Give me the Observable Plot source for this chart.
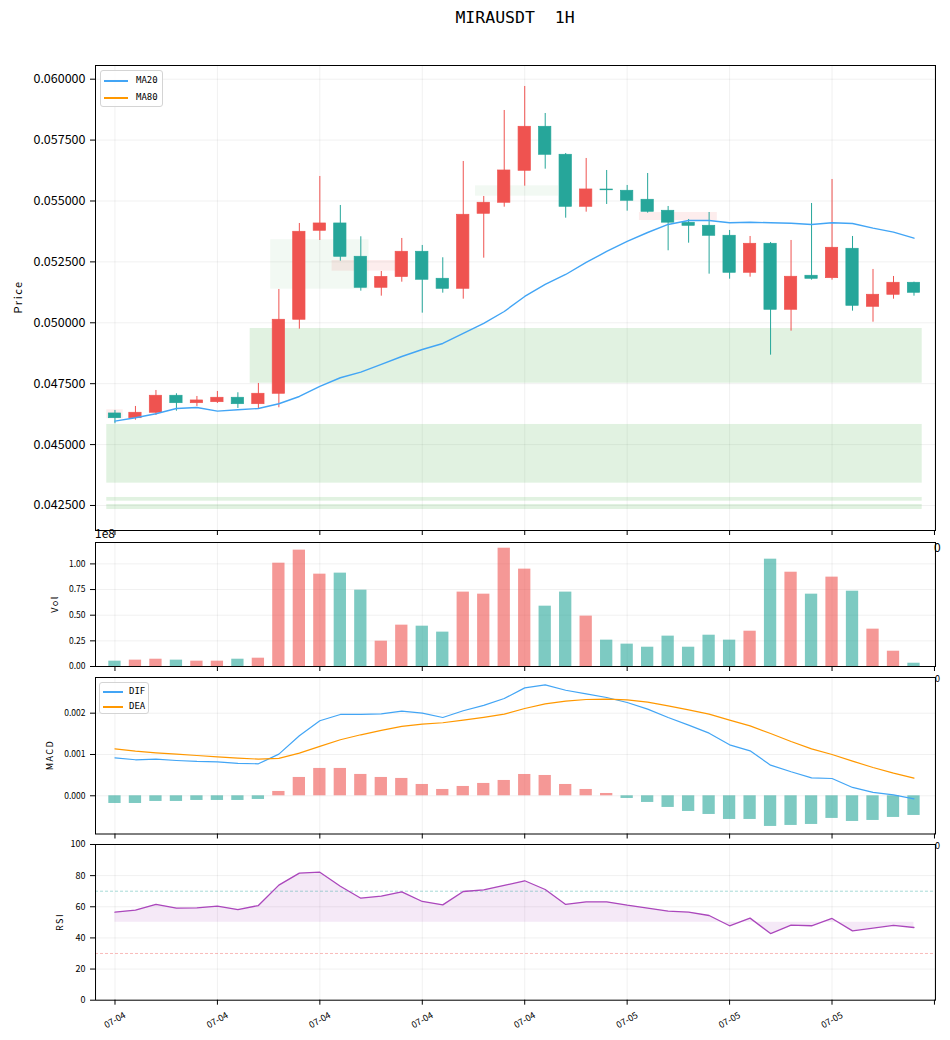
<!DOCTYPE html>
<html>
<head>
<meta charset="utf-8">
<script src="https://cdn.jsdelivr.net/npm/d3@7"></script>
<script src="https://cdn.jsdelivr.net/npm/@observablehq/plot@0.6"></script>
<style>
  body { margin: 0; background: #fff; }
  #fig { position: relative; width: 950px; height: 1040px; overflow: hidden; font-family: "Noto Sans CJK SC", sans-serif; color: #000; }
  .panel { position: absolute; left: 0; }
  .panel svg { background: transparent; overflow: visible; }
  .title { position: absolute; top: 8px; left: 315px; width: 400px; text-align: center; font-family: "DejaVu Sans Mono", monospace; font-size: 16.5px; white-space: pre; }
  .ylab { position: absolute; transform: translate(-50%, -50%) rotate(-90deg); white-space: nowrap; letter-spacing: 1.5px; }
  .legend { position: absolute; background: rgba(255,255,255,0.85); border: 1px solid #d4d4d4; border-radius: 3px; font-family: "DejaVu Sans Mono", monospace; font-size: 9px; box-sizing: border-box; }
  .legend .sw { position: absolute; height: 1.6px; }
  .legend .tx { position: absolute; line-height: 10px; }
  .art { position: absolute; white-space: nowrap; }
</style>
</head>
<body>
<div id="fig"></div>
<script>
// ---------------- data ----------------
const xTickIdx = [0, 5, 10, 15, 20, 25, 30, 35];
const xTickLabels = ["07-04", "07-04", "07-04", "07-04", "07-04", "07-05", "07-05", "07-05"];
const xAxisTicks = [0, 5, 10, 15, 20, 25, 30, 35, 40];

const openP  = [0.046277,0.046084,0.046306,0.047004,0.046700,0.046741,0.046922,0.046659,0.047086,0.050124,
                0.053777,0.054077,0.052710,0.051437,0.051881,0.052915,0.051807,0.051396,0.054475,0.054927,
                0.056240,0.058046,0.056897,0.054762,0.055470,0.055419,0.055050,0.054598,0.054105,0.053982,
                0.053572,0.052053,0.053243,0.050534,0.051930,0.051832,0.053038,0.050657,0.051150,0.051642];
const highP  = [0.046400,0.046565,0.047221,0.047086,0.046975,0.047180,0.047127,0.047509,0.051368,0.054077,
                0.056006,0.054816,0.053531,0.052106,0.053461,0.053174,0.052669,0.056622,0.055185,0.058715,
                0.059701,0.058592,0.056950,0.056745,0.056252,0.055637,0.056129,0.054775,0.054241,0.054528,
                0.053790,0.053543,0.053297,0.053379,0.054898,0.055883,0.053543,0.052189,0.051901,0.051667];
const lowP   = [0.045855,0.046002,0.046195,0.046371,0.046565,0.046688,0.046483,0.046483,0.046511,0.049738,
                0.053379,0.052529,0.051298,0.051093,0.051667,0.050395,0.051216,0.050969,0.052652,0.054746,
                0.055608,0.056306,0.054294,0.054541,0.054857,0.054582,0.054500,0.052956,0.053268,0.051996,
                0.051790,0.051872,0.048671,0.049656,0.051750,0.051750,0.050477,0.050025,0.050969,0.051093];
const closeP = [0.046084,0.046306,0.047004,0.046700,0.046811,0.046922,0.046659,0.047086,0.050124,0.053736,
                0.054077,0.052710,0.051437,0.051881,0.052915,0.051766,0.051396,0.054434,0.054927,0.056252,
                0.058046,0.056897,0.054762,0.055473,0.055440,0.055009,0.054557,0.054110,0.053982,0.053572,
                0.052053,0.053243,0.050534,0.051889,0.051807,0.053079,0.050698,0.051150,0.051642,0.051232];
const ma20   = [0.045961,0.046101,0.046265,0.046483,0.046524,0.046372,0.046429,0.046483,0.046676,0.046975,
                0.047386,0.047743,0.047973,0.048289,0.048617,0.048904,0.049151,0.049561,0.049972,0.050464,
                0.051080,0.051573,0.051983,0.052476,0.052927,0.053338,0.053707,0.054036,0.054200,0.054200,
                0.054106,0.054130,0.054106,0.054089,0.054036,0.054106,0.054077,0.053884,0.053720,0.053474];
const priceTicks = [0.0425, 0.045, 0.0475, 0.05, 0.0525, 0.055, 0.0575, 0.06];

// zones (index span, price span)
const zoneStart = [-0.4, -0.4, -0.4, 6.6, 7.6, 17.6, -0.4, 10.6, 25.6];
const zoneEnd   = [39.4, 39.4, 39.4, 39.4, 12.4, 21.65, 0.4, 13.7, 29.4];
const zoneLow   = [0.043416, 0.042677, 0.042336, 0.047521, 0.051380, 0.055197, 0.046060, 0.052119, 0.054200];
const zoneHigh  = [0.045826, 0.042829, 0.042542, 0.049765, 0.053408, 0.055624, 0.046429, 0.052558, 0.054528];
const zoneKind  = ["strong", "strong", "strong", "strong", "weak", "weak", "resist", "resist", "resist"];

// volume in units of 1e8
const volume = [0.052,0.062,0.071,0.062,0.052,0.052,0.071,0.081,1.007,1.134,
                0.900,0.910,0.744,0.247,0.403,0.393,0.335,0.725,0.705,1.153,
                0.949,0.588,0.725,0.491,0.257,0.218,0.188,0.296,0.188,0.305,
                0.257,0.344,1.046,0.919,0.705,0.871,0.734,0.364,0.149,0.032];
const volTicks = [0, 0.25, 0.5, 0.75, 1.0];

const dif  = [0.000920,0.000872,0.000888,0.000855,0.000831,0.000823,0.000783,0.000775,0.001009,0.001453,
              0.001816,0.001969,0.001969,0.001985,0.002050,0.002001,0.001896,0.002058,0.002190,0.002355,
              0.002613,0.002685,0.002556,0.002468,0.002379,0.002258,0.002097,0.001895,0.001710,0.001516,
              0.001234,0.001089,0.000742,0.000581,0.000435,0.000419,0.000202,0.000081,0.000024,-0.000073];
const dea  = [0.001138,0.001082,0.001041,0.001009,0.000976,0.000944,0.000912,0.000888,0.000904,0.001033,
              0.001195,0.001356,0.001477,0.001582,0.001679,0.001735,0.001768,0.001832,0.001900,0.001976,
              0.002113,0.002226,0.002290,0.002331,0.002339,0.002323,0.002266,0.002177,0.002081,0.001976,
              0.001831,0.001694,0.001508,0.001315,0.001137,0.001000,0.000839,0.000685,0.000548,0.000427];
const macdHist = [-0.000186,-0.000186,-0.000137,-0.000137,-0.000113,-0.000113,-0.000113,-0.000089,0.000105,0.000444,
                  0.000662,0.000662,0.000517,0.000444,0.000420,0.000274,0.000153,0.000226,0.000299,0.000371,
                  0.000516,0.000492,0.000274,0.000153,0.000056,-0.000065,-0.000161,-0.000282,-0.000379,-0.000452,
                  -0.000573,-0.000573,-0.000742,-0.000718,-0.000694,-0.000548,-0.000621,-0.000597,-0.000524,-0.000476];
const macdTicks = [0, 0.001, 0.002];

const rsi = [56.5,57.8,61.5,59.1,59.3,60.4,58.2,60.8,73.9,81.6,
             82.2,73.2,65.5,66.8,69.6,63.4,61.2,69.8,70.9,73.7,
             76.7,71.1,61.5,63.2,63.2,61.0,59.1,57.2,56.5,54.4,
             47.8,52.7,42.8,48.2,47.8,52.5,44.5,46.3,48.0,46.7];
const rsiTicks = [0, 20, 40, 60, 80, 100];

// ---------------- styling ----------------
const RED = "#ef5350", TEAL = "#26a69a", BLUE = "#42a5f5", ORANGE = "#ff9800", PURPLE = "#ab47bc";
const GRID = {stroke: "#000", strokeOpacity: 0.08, strokeWidth: 0.8};
const XDOM = [-0.95, 40.05];
const FONT = "'Noto Sans CJK SC', sans-serif";
const idx = d3.range(40);

const candles = idx.map(i => ({i, o: openP[i], h: highP[i], l: lowP[i], c: closeP[i], up: closeP[i] >= openP[i]}));
const upC = candles.filter(d => d.up), dnC = candles.filter(d => !d.up);
const zones = zoneStart.map((s, k) => ({x1: s, x2: zoneEnd[k], lo: zoneLow[k], hi: zoneHigh[k], kind: zoneKind[k]}));
const vols = idx.map(i => ({i, v: volume[i], up: candles[i].up}));
const hist = idx.map(i => ({i, v: macdHist[i]}));

function xAxisMarks() {
  return [
    Plot.ruleX(xAxisTicks, GRID),
    Plot.axisX(xAxisTicks, {tickSize: 5, tickFormat: () => "", label: null, stroke: "#000"})
  ];
}

const fig = document.getElementById("fig");
function place(el, top) {
  const d = document.createElement("div");
  d.className = "panel";
  d.style.top = top + "px";
  d.appendChild(el);
  fig.appendChild(d);
}
function addHTML(html) { fig.insertAdjacentHTML("beforeend", html); }

// ---------------- price panel ----------------
const price = Plot.plot({
  width: 950, height: 495, marginLeft: 95, marginRight: 15, marginTop: 10, marginBottom: 20,
  style: {fontFamily: FONT, fontSize: "12.5px", color: "#000", background: "transparent"},
  x: {domain: XDOM, axis: null},
  y: {domain: [0.041473, 0.060562], axis: null},
  marks: [
    ...xAxisMarks(),
    Plot.ruleY(priceTicks, GRID),
    Plot.rect(zones.filter(z => z.kind === "strong"), {x1: "x1", x2: "x2", y1: "lo", y2: "hi", fill: "#4caf50", fillOpacity: 0.17}),
    Plot.rect(zones.filter(z => z.kind === "weak"), {x1: "x1", x2: "x2", y1: "lo", y2: "hi", fill: "#4caf50", fillOpacity: 0.07}),
    Plot.rect(zones.filter(z => z.kind === "resist"), {x1: "x1", x2: "x2", y1: "lo", y2: "hi", fill: RED, fillOpacity: 0.1}),
    Plot.ruleX(upC, {x: "i", y1: "l", y2: "h", stroke: RED, strokeWidth: 1}),
    Plot.ruleX(dnC, {x: "i", y1: "l", y2: "h", stroke: TEAL, strokeWidth: 1}),
    Plot.rect(upC, {x1: d => d.i - 0.3, x2: d => d.i + 0.3, y1: "o", y2: "c", fill: RED, stroke: RED, strokeWidth: 0.7}),
    Plot.rect(dnC, {x1: d => d.i - 0.3, x2: d => d.i + 0.3, y1: "o", y2: "c", fill: TEAL, stroke: TEAL, strokeWidth: 0.7}),
    Plot.line(idx, {x: i => i, y: i => ma20[i], stroke: BLUE, strokeWidth: 1.4}),
    Plot.axisY(priceTicks, {tickSize: 5, tickPadding: 5, tickFormat: d => d.toFixed(6), label: null, fontSize: 12.5}),
    Plot.frame({stroke: "#000", strokeWidth: 1})
  ]
});
place(price, 55);

// ---------------- volume panel ----------------
const vol = Plot.plot({
  width: 950, height: 154, marginLeft: 95, marginRight: 15, marginTop: 10, marginBottom: 20,
  style: {fontFamily: FONT, fontSize: "8.5px", color: "#000", background: "transparent"},
  x: {domain: XDOM, axis: null},
  y: {domain: [0, 1.2086], axis: null},
  marks: [
    ...xAxisMarks(),
    Plot.ruleY(volTicks, GRID),
    Plot.rect(vols.filter(d => d.up), {x1: d => d.i - 0.3, x2: d => d.i + 0.3, y1: 0, y2: "v", fill: RED, fillOpacity: 0.6}),
    Plot.rect(vols.filter(d => !d.up), {x1: d => d.i - 0.3, x2: d => d.i + 0.3, y1: 0, y2: "v", fill: TEAL, fillOpacity: 0.6}),
    Plot.axisY(volTicks, {tickSize: 5, tickPadding: 5, tickFormat: d => d.toFixed(2), label: null, fontSize: 8.5}),
    Plot.frame({stroke: "#000", strokeWidth: 1})
  ]
});
place(vol, 532);

// ---------------- MACD panel ----------------
const macd = Plot.plot({
  width: 950, height: 186.5, marginLeft: 95, marginRight: 15, marginTop: 10, marginBottom: 20,
  style: {fontFamily: FONT, fontSize: "8.5px", color: "#000", background: "transparent"},
  x: {domain: XDOM, axis: null},
  y: {domain: [-0.000925, 0.002864], axis: null},
  marks: [
    ...xAxisMarks(),
    Plot.ruleY(macdTicks, GRID),
    Plot.rect(hist.filter(d => d.v >= 0), {x1: d => d.i - 0.3, x2: d => d.i + 0.3, y1: 0, y2: "v", fill: RED, fillOpacity: 0.6}),
    Plot.rect(hist.filter(d => d.v < 0), {x1: d => d.i - 0.3, x2: d => d.i + 0.3, y1: 0, y2: "v", fill: TEAL, fillOpacity: 0.6}),
    Plot.line(idx, {x: i => i, y: i => dif[i], stroke: BLUE, strokeWidth: 1.2}),
    Plot.line(idx, {x: i => i, y: i => dea[i], stroke: ORANGE, strokeWidth: 1.2}),
    Plot.axisY(macdTicks, {tickSize: 5, tickPadding: 5, tickFormat: d => d.toFixed(3), label: null, fontSize: 8.5}),
    Plot.frame({stroke: "#000", strokeWidth: 1})
  ]
});
place(macd, 667);

// ---------------- RSI panel ----------------
const rsiPlot = Plot.plot({
  width: 950, height: 205.7, marginLeft: 95, marginRight: 15, marginTop: 10, marginBottom: 40,
  style: {fontFamily: FONT, fontSize: "9px", color: "#000", background: "transparent"},
  x: {domain: XDOM, axis: null},
  y: {domain: [0, 100], axis: null},
  marks: [
    ...xAxisMarks(),
    Plot.ruleY(rsiTicks, GRID),
    Plot.areaY(idx, {x: i => i, y1: 50, y2: i => rsi[i], fill: PURPLE, fillOpacity: 0.12}),
    Plot.ruleY([70], {stroke: TEAL, strokeOpacity: 0.5, strokeWidth: 0.8, strokeDasharray: "3,2"}),
    Plot.ruleY([30], {stroke: RED, strokeOpacity: 0.5, strokeWidth: 0.8, strokeDasharray: "3,2"}),
    Plot.line(idx, {x: i => i, y: i => rsi[i], stroke: PURPLE, strokeWidth: 1.3}),
    Plot.axisY(rsiTicks, {tickSize: 5, tickPadding: 5, tickFormat: d => String(d), label: null, fontSize: 9}),
    Plot.text(xTickIdx, {x: d => d, frameAnchor: "bottom", dy: 20, text: (d, k) => xTickLabels[k], rotate: -30, textAnchor: "middle", lineAnchor: "middle", fontSize: 9}),
    Plot.frame({stroke: "#000", strokeWidth: 1})
  ]
});
place(rsiPlot, 834);

// ---------------- texts, legends ----------------
addHTML(`<div class="title">MIRAUSDT  1H</div>`);
addHTML(`<div class="ylab" style="left:17px;top:297px;font-size:11px;">Price</div>`);
addHTML(`<div class="ylab" style="left:54px;top:604px;font-size:9px;">Vol</div>`);
addHTML(`<div class="ylab" style="left:49px;top:755px;font-size:9px;">MACD</div>`);
addHTML(`<div class="ylab" style="left:59px;top:922px;font-size:9px;">RSI</div>`);
addHTML(`<div class="art" style="left:95px;top:524px;font-size:12px;">1e8</div>`);
addHTML(`<div class="art" style="left:934px;top:538px;font-size:12px;">0</div>`);
addHTML(`<div class="art" style="left:935px;top:672px;font-size:9px;">0</div>`);
addHTML(`<div class="art" style="left:935px;top:839px;font-size:9px;">0</div>`);

addHTML(`<div class="legend" style="left:100px;top:70px;width:63px;height:37px;">
  <div class="sw" style="left:3px;top:9px;width:24px;background:${BLUE};"></div>
  <div class="tx" style="left:35px;top:4px;">MA20</div>
  <div class="sw" style="left:3px;top:26px;width:24px;background:${ORANGE};"></div>
  <div class="tx" style="left:35px;top:21px;">MA80</div>
</div>`);
addHTML(`<div class="legend" style="left:99px;top:682px;width:50px;height:32px;">
  <div class="sw" style="left:3px;top:8px;width:20px;background:${BLUE};"></div>
  <div class="tx" style="left:29px;top:3px;">DIF</div>
  <div class="sw" style="left:3px;top:23px;width:20px;background:${ORANGE};"></div>
  <div class="tx" style="left:29px;top:18px;">DEA</div>
</div>`);
</script>
</body>
</html>
